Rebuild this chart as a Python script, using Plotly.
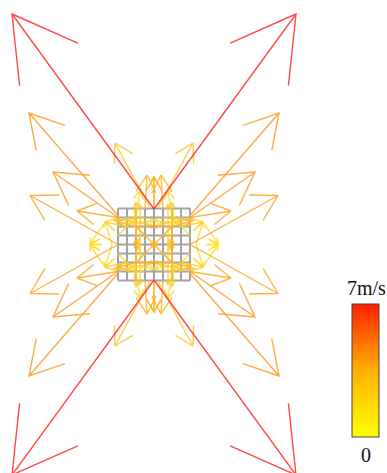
import math
import plotly.graph_objects as go

# one quadrant of the flow field (the field is symmetric about both axes)
tail_x = [0, -36, -36, -36, -36, -4, -9, 0, -52, -49, -42, -27, -9, -18, -18, -18, -18, -18, -18, -14, -36, -9, -36, -36, -20]
tail_y = [35.5, 29, 27, 0, 27, 37, 36, 36, 0, 22, 0, 18, 27, 18, 18, 18, 18, 27, 9, -10, 9, 9, 20, 25, 36]
head_x = [-142, -125, -101, -124, -77, -39, -7, 0, -64, -64, -49, -49, -40, -36, 0, -18, 0, -14, -18, -14, -18, -27, 0, -5, -16]
head_y = [230.5, 131.5, 72.5, 49, 33.5, 101.5, 69.5, 67.5, 0.5, 1, 22.5, 22.5, 24, 23, 18, 0, 0, 54, 42, 40, 27, 27, 24, 20, -5]
speed =  [6.9, 3.6, 3.6, 3.3, 3.3, 2.1, 2.8, 2.6, 1.0, 1.2, 1.2, 1.8, 2.0, 2.8, 3.0, 3.0, 2.8, 1.6, 2.0, 1.8, 1.5, 1.8, 1.4, 1.8, 1.4]
barb =   [72, 38, 37, 29, 21.5, 20.5, 20, 15, 11, 6, 6, 13, 6, 5, 4, 4, 4, 10, 5, 5, 4, 4, 5, 5, 5]

grid_vals = [-36, -27, -18, -9, 0, 9, 18, 27, 36]

colorscale = [[0, "#ffff00"], [0.5, "#ffb000"], [1, "#ff2000"]]
cb_label_top = "7m/s"
cb_label_bottom = "0"
v_max = 7


def color(s):
    t = min(s / v_max, 1)
    if t < 0.5:
        g = 255 + (160 - 255) * t / 0.5
        return f"rgb(255,{g:.0f},40)"
    g = 160 + (40 - 160) * (t - 0.5) / 0.5
    return f"rgb(255,{g:.0f},40)"


fig = go.Figure()

# grid
gx, gy = [], []
for v in grid_vals:
    gx += [v, v, None, grid_vals[0], grid_vals[-1], None]
    gy += [grid_vals[0], grid_vals[-1], None, v, v, None]
fig.add_trace(go.Scatter(x=gx, y=gy, mode="lines", line=dict(color="#a4a4a4", width=2), hoverinfo="skip"))

# arrows, yellow first so the stronger ones sit on top
order = sorted(range(len(speed)), key=lambda i: speed[i])
for i in order:
    for sx in (1, -1):
        for sy in (1, -1):
            x0, y0 = sx * tail_x[i], sy * tail_y[i]
            x1, y1 = sx * head_x[i], sy * head_y[i]
            a = math.atan2(y0 - y1, x0 - x1)
            xs = [x0, x1, x1 + barb[i] * math.cos(a + 0.5236), x1, x1 + barb[i] * math.cos(a - 0.5236)]
            ys = [y0, y1, y1 + barb[i] * math.sin(a + 0.5236), y1, y1 + barb[i] * math.sin(a - 0.5236)]
            fig.add_trace(go.Scatter(x=xs, y=ys, mode="lines",
                                     line=dict(color=color(speed[i]), width=1.4),
                                     opacity=0.85, hoverinfo="skip"))

# colour bar
fig.add_trace(go.Scatter(
    x=[None], y=[None], mode="markers",
    marker=dict(color=[0], cmin=0, cmax=v_max, colorscale=colorscale, showscale=True,
                colorbar=dict(x=352 / 387, xanchor="left", xpad=0, ypad=0,
                              y=1 - 437 / 473, yanchor="bottom",
                              thickness=27, thicknessmode="pixels",
                              len=133, lenmode="pixels",
                              outlinecolor="#444444", outlinewidth=1,
                              borderwidth=0, showticklabels=False, ticks="")),
    hoverinfo="skip"))

font = dict(family="Liberation Serif", size=20, color="#111111")
fig.add_annotation(x=366 / 387, y=1 - 288 / 473, xref="paper", yref="paper", text=cb_label_top,
                   showarrow=False, font=font, xanchor="center", yanchor="middle")
fig.add_annotation(x=366 / 387, y=1 - 455 / 473, xref="paper", yref="paper", text=cb_label_bottom,
                   showarrow=False, font=font, xanchor="center", yanchor="middle")

fig.update_layout(
    width=387, height=473, showlegend=False,
    margin=dict(l=0, r=0, t=0, b=0),
    paper_bgcolor="white", plot_bgcolor="white",
    xaxis=dict(range=[-154, 233], visible=False, fixedrange=True),
    yaxis=dict(range=[-228.5, 244.5], visible=False, fixedrange=True),
)
fig.write_html("out.html", config=dict(displayModeBar=False),
               post_script="document.documentElement.style.overflow='hidden';document.body.style.margin='0';")
